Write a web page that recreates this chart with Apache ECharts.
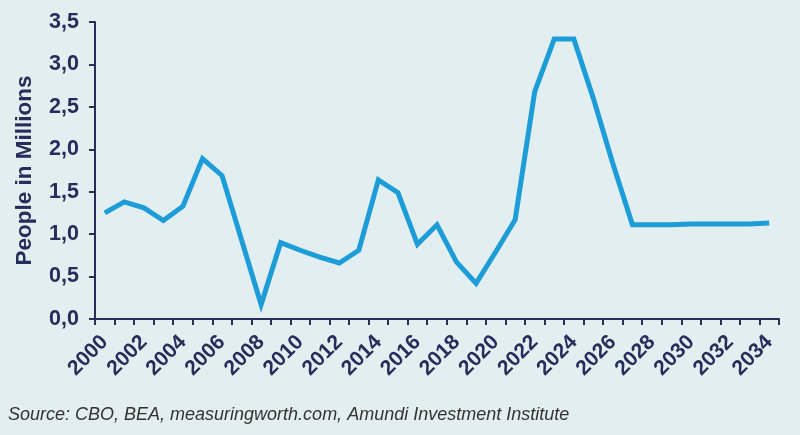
<!DOCTYPE html>
<html>
<head>
<meta charset="utf-8">
<script src="https://cdn.jsdelivr.net/npm/echarts@6/dist/echarts.min.js"></script>
<style>
html,body{margin:0;padding:0;background:#e2eef0;}
#chart{width:800px;height:435px;}
</style>
</head>
<body>
<div id="chart"></div>
<script>
const years = ['2000','2001','2002','2003','2004','2005','2006','2007','2008','2009','2010','2011','2012','2013','2014','2015','2016','2017','2018','2019','2020','2021','2022','2023','2024','2025','2026','2027','2028','2029','2030','2031','2032','2033','2034'];
const people = [1.25,1.38,1.31,1.16,1.33,1.89,1.69,0.93,0.17,0.90,0.81,0.73,0.66,0.81,1.64,1.49,0.88,1.11,0.67,0.42,0.79,1.17,2.68,3.30,3.30,2.60,1.83,1.11,1.11,1.11,1.12,1.12,1.12,1.12,1.13];
const yTicks = [0,0.5,1,1.5,2,2.5,3,3.5];
const yTitle = 'People in Millions';
const sourceText = 'Source: CBO, BEA, measuringworth.com, Amundi Investment Institute';

const navy = '#252d5a';
const chart = echarts.init(document.getElementById('chart'));
chart.setOption({
  backgroundColor: '#e2eef0',
  animation: false,
  grid: {left: 95, right: 21, top: 22, bottom: 116},
  graphic: [{
    type: 'text', left: 8, top: 406,
    style: {text: sourceText, fill: '#333333', font: 'italic 18px "Liberation Sans Narrow", "Liberation Sans", Arial, sans-serif'}
  }],
  xAxis: {
    type: 'category', data: years, boundaryGap: true,
    axisLine: {lineStyle: {color: navy, width: 2}},
    axisTick: {show: true, interval: 0, length: 6, lineStyle: {color: navy, width: 2}},
    axisLabel: {interval: 1, rotate: 45, margin: 20, color: navy, fontWeight: 'bold', fontSize: 21, fontFamily: '"Liberation Sans", Arial, sans-serif'}
  },
  yAxis: {
    type: 'value', min: yTicks[0], max: yTicks[yTicks.length-1], interval: 0.5,
    name: yTitle, nameLocation: 'middle', nameGap: 59, nameRotate: 90,
    nameTextStyle: {color: navy, fontWeight: 'bold', fontSize: 22.5, fontFamily: '"Liberation Sans", Arial, sans-serif'},
    splitLine: {show: false},
    axisLine: {show: true, lineStyle: {color: navy, width: 2}},
    axisTick: {show: true, length: 6, lineStyle: {color: navy, width: 2}},
    axisLabel: {margin: 16, color: navy, fontWeight: 'bold', fontSize: 21.5, fontFamily: '"Liberation Sans", Arial, sans-serif',
      formatter: v => v.toFixed(1).replace('.', ',')}
  },
  series: [{
    type: 'line', data: people, symbol: 'none',
    lineStyle: {color: '#1d9dd8', width: 5, join: 'miter'}
  }]
});
</script>
</body>
</html>
